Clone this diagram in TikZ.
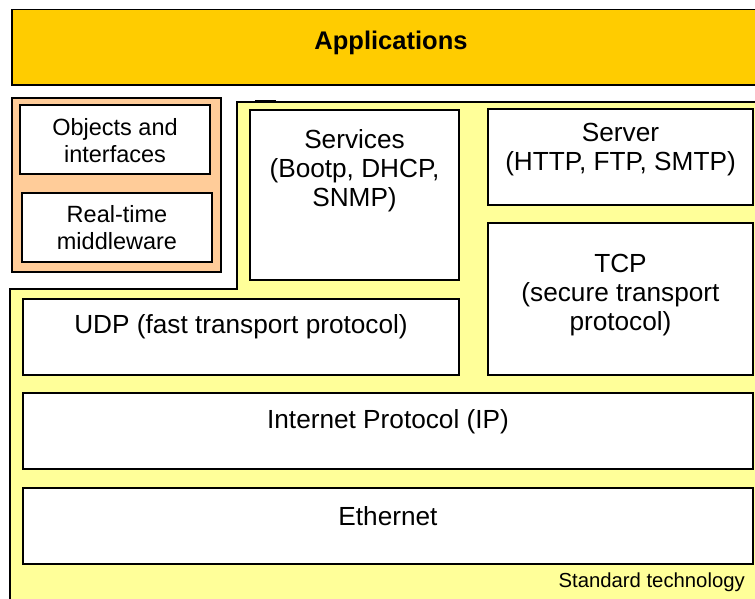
\documentclass[tikz,border=0pt]{standalone}
\usepackage{fontspec}
\setmainfont{Liberation Sans}
\definecolor{appgold}{HTML}{FFCC00}
\definecolor{mwpeach}{HTML}{FFCC99}
\definecolor{stdyellow}{HTML}{FFFF99}
\begin{document}
\begin{tikzpicture}[x=1pt,y=-1pt,
  frame/.style={draw=black, line width=1.6pt, inner sep=0pt, outer sep=0pt, anchor=north west},
  box/.style={frame, fill=white},
  txt/.style={inner sep=0pt, align=center, font=\fontsize{26.2}{29}\selectfont},
  smalltxt/.style={inner sep=0pt, align=center, font=\fontsize{23.5}{27}\selectfont}]
\useasboundingbox (0,0) rectangle (755,598);
\fill[white] (0,0) rectangle (755,598);
\clip (0,0) rectangle (755,598);

% applications layer
\node[frame, fill=appgold, minimum width=760pt, minimum height=75.5pt] (apps) at (12,9.5) {};
\node[txt, font=\fontsize{25.5}{29}\selectfont\bfseries] (appstxt) at (391,43) {Applications};

% middleware stack
\node[frame, fill=mwpeach, minimum width=209pt, minimum height=174pt] (mw) at (12,98) {};
\node[box, minimum width=190pt, minimum height=69pt] (objects) at (20,105) {};
\node[smalltxt] (objectstxt) at (115,141) {Objects and\\interfaces};
\node[box, minimum width=190pt, minimum height=69pt] (realtime) at (22,193) {};
\node[smalltxt] (realtimetxt) at (117,228) {Real-time\\middleware};

% standard technology area
\coordinate (s1) at (237,102);
\coordinate (s2) at (770,102);
\coordinate (s3) at (770,610);
\coordinate (s4) at (10,610);
\coordinate (s5) at (10,289);
\coordinate (s6) at (237,289);
\draw[fill=stdyellow, line width=1.6pt] (s1) -- (s2) -- (s3) -- (s4) -- (s5) -- (s6) -- cycle;
\coordinate (t1) at (255,101.5);
\coordinate (t2) at (276,101.5);
\draw[line width=3pt] (t1) -- (t2);

\node[box, minimum width=209pt, minimum height=170pt] (services) at (250,110) {};
\node[txt] (servicestxt) at (354.5,171) {Services\\(Bootp, DHCP,\\SNMP)};
\node[box, minimum width=265pt, minimum height=96pt] (server) at (488,109) {};
\node[txt] (servertxt) at (620.5,150) {Server\\(HTTP, FTP, SMTP)};
\node[box, minimum width=265pt, minimum height=152pt] (tcp) at (488,223) {};
\node[txt] (tcptxt) at (620.5,295) {TCP\\(secure transport\\protocol)};
\node[box, minimum width=436pt, minimum height=76pt] (udp) at (23,299) {};
\node[txt] (udptxt) at (241,327) {UDP (fast transport protocol)};
\node[box, minimum width=730pt, minimum height=76pt] (ip) at (23,393) {};
\node[txt] (iptxt) at (388,421.5) {Internet Protocol (IP)};
\node[box, minimum width=730pt, minimum height=76pt] (eth) at (23,488) {};
\node[txt] (ethtxt) at (388,516.5) {Ethernet};

\node[inner sep=0pt, anchor=east, font=\fontsize{20.3}{24}\selectfont] (stdtxt) at (745,582) {Standard technology};
\end{tikzpicture}
\end{document}
